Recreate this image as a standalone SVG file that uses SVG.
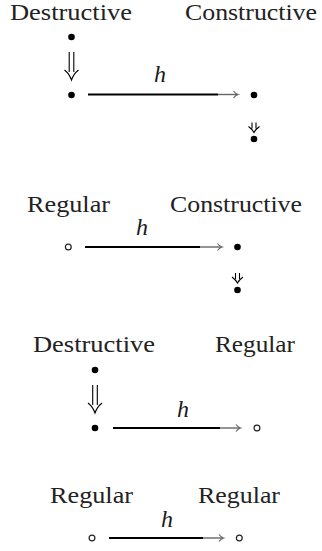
<svg xmlns="http://www.w3.org/2000/svg" width="322" height="551" viewBox="0 0 322 551">
<style>
.lbl{font-family:"Liberation Serif","DejaVu Serif",serif;font-size:23.5px;fill:#222}
.h{font-family:"Liberation Serif","DejaVu Serif",serif;font-style:italic;font-size:24px;fill:#1a1a1a;text-anchor:middle}
.dot{fill:#000}
.odot{fill:#fff;stroke:#222;stroke-width:1.2}
.shaft{stroke:#000;stroke-width:2;fill:none}
.tail{stroke:#666;stroke-width:1.4;fill:none}
.head{stroke:#666;stroke-width:1.2;fill:none}
.dbl{stroke:#000;stroke-width:1.1;fill:none}
</style>
<defs>
<g id="tallDbl"><path class="dbl" d="M-2.3,0 V20 M2.3,0 V20 M-7,18 Q-2,22 0,28 Q2,22 7,18"/></g>
<g id="smallDbl"><path class="dbl" d="M-2,0 V6 M2,0 V6 M-5.5,4 Q-1.5,7 0,10 Q1.5,7 5.5,4"/></g>
</defs>

<g id="d1">
<text class="lbl" x="10" y="20" textLength="122" lengthAdjust="spacingAndGlyphs">Destructive</text>
<text class="lbl" x="185" y="20" textLength="132" lengthAdjust="spacingAndGlyphs">Constructive</text>
<g id="d1-top"><circle class="dot" cx="71.5" cy="37" r="3.3"/></g>
<g id="d1-src"><circle class="dot" cx="71.5" cy="95" r="3.3"/></g>
<g id="d1-tgt"><circle class="dot" cx="254" cy="95" r="3.3"/></g>
<g id="d1-bot"><circle class="dot" cx="254" cy="139" r="3.3"/></g>
</g>

<g id="d2">
<text class="lbl" x="27" y="212" textLength="83" lengthAdjust="spacingAndGlyphs">Regular</text>
<text class="lbl" x="170" y="212" textLength="132" lengthAdjust="spacingAndGlyphs">Constructive</text>
<g id="d2-src"><circle class="odot" cx="68.3" cy="247" r="2.9"/></g>
<g id="d2-tgt"><circle class="dot" cx="237.5" cy="247" r="3.3"/></g>
<g id="d2-bot"><circle class="dot" cx="237.5" cy="290" r="3.3"/></g>
</g>

<g id="d3">
<text class="lbl" x="33" y="352" textLength="122" lengthAdjust="spacingAndGlyphs">Destructive</text>
<text class="lbl" x="215" y="352" textLength="80" lengthAdjust="spacingAndGlyphs">Regular</text>
<g id="d3-top"><circle class="dot" cx="95" cy="370" r="3.3"/></g>
<g id="d3-src"><circle class="dot" cx="95" cy="428" r="3.3"/></g>
<g id="d3-tgt"><circle class="odot" cx="257" cy="428" r="2.9"/></g>
</g>

<g id="d4">
<text class="lbl" x="50" y="503" textLength="83" lengthAdjust="spacingAndGlyphs">Regular</text>
<text class="lbl" x="198" y="503" textLength="82" lengthAdjust="spacingAndGlyphs">Regular</text>
<g id="d4-src"><circle class="odot" cx="92" cy="538" r="2.9"/></g>
<g id="d4-tgt"><circle class="odot" cx="239.3" cy="538" r="2.9"/></g>
</g>

<g id="connectors">
<use href="#tallDbl" x="71.5" y="52"/>
<use href="#smallDbl" x="254" y="122.5"/>
<use href="#smallDbl" x="237.5" y="273"/>
<use href="#tallDbl" x="95" y="385"/>

<line class="shaft" x1="88" y1="94.5" x2="218" y2="94.5"/>
<line class="tail" x1="218" y1="94.5" x2="237.5" y2="94.5"/>
<path class="head" d="M233.5,91 Q235.5,93.8 238,94.5 Q235.5,95.2 233.5,98"/>
<text class="h" x="160" y="82">h</text>

<line class="shaft" x1="85" y1="247" x2="200" y2="247"/>
<line class="tail" x1="200" y1="247" x2="221.5" y2="247"/>
<path class="head" d="M217.5,243.5 Q219.5,246.3 222,247 Q219.5,247.7 217.5,250.5"/>
<text class="h" x="142" y="235">h</text>

<line class="shaft" x1="113" y1="428" x2="220" y2="428"/>
<line class="tail" x1="220" y1="428" x2="240" y2="428"/>
<path class="head" d="M236,424.5 Q238,427.3 240.5,428 Q238,428.7 236,431.5"/>
<text class="h" x="183" y="417">h</text>

<line class="shaft" x1="109" y1="538" x2="203" y2="538"/>
<line class="tail" x1="203" y1="538" x2="223" y2="538"/>
<path class="head" d="M219,534.5 Q221,537.3 223.5,538 Q221,538.7 219,541.5"/>
<text class="h" x="167" y="527">h</text>
</g>
</svg>
